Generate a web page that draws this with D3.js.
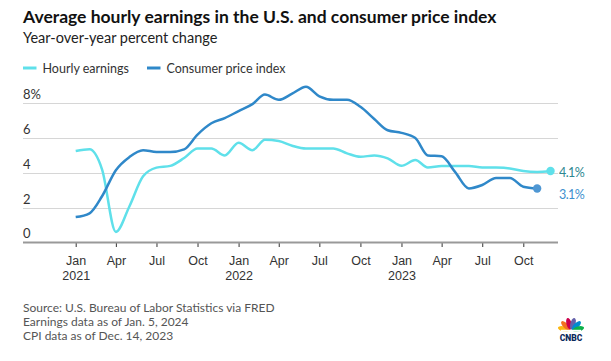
<!DOCTYPE html>
<html>
<head>
<meta charset="utf-8">
<script src="https://cdn.jsdelivr.net/npm/d3@7"></script>
<style>
  body { margin: 0; background: #fff; }
  svg { display: block; font-family: Lato, "Noto Sans", sans-serif; }
</style>
</head>
<body>
<div id="chart"></div>
<script>
// DATA (monthly, year-over-year %)
const startMonth = new Date(2021, 0, 1)
const earnings = [5.25, 5.35, 4.2, 0.6, 2.05, 3.8, 4.3, 4.4, 4.85, 5.4, 5.4, 5.0,
  5.73, 5.3, 5.9, 5.83, 5.56, 5.4, 5.4, 5.4, 5.12, 4.92, 5.0, 4.83,
  4.4, 4.73, 4.31, 4.39, 4.39, 4.39, 4.31, 4.3, 4.25, 4.1, 4.05, 4.1]
const cpi = [1.45, 1.67, 2.65, 4.15, 4.9, 5.3, 5.2, 5.2, 5.35, 6.2, 6.85, 7.15,
  7.55, 7.95, 8.5, 8.2, 8.55, 8.95, 8.4, 8.2, 8.2, 7.8, 7.1, 6.45,
  6.3, 6.0, 5.0, 4.95, 4.05, 3.1, 3.3, 3.7, 3.7, 3.2, 3.1]
const yTicks = [0, 2, 4, 6, 8]
const endLabels = ['4.1%', '3.1%']
const sourceLines = [
  'Source: U.S. Bureau of Labor Statistics via FRED',
  'Earnings data as of Jan. 5, 2024',
  'CPI data as of Dec. 14, 2023',
]

const colors = { earnings: '#5fe0ea', cpi: '#2f88c9', earnLabel: '#2c8790', cpiLabel: '#3d8fce' }

const toSeries = arr => arr.map((v, i) => ({ date: d3.timeMonth.offset(startMonth, i), value: v }))
const earnSeries = toSeries(earnings)
const cpiSeries = toSeries(cpi)

// SIZES
const W = 611, H = 361
const left = 23, right = 558

const svg = d3.select('#chart').append('svg')
  .attr('width', W).attr('height', H)

// TITLES
svg.append('text').attr('x', left).attr('y', 23)
  .attr('font-size', 17.5).attr('font-weight', 700).attr('fill', '#111')
  .text('Average hourly earnings in the U.S. and consumer price index')
svg.append('text').attr('x', left).attr('y', 43)
  .attr('font-size', 14.5).attr('fill', '#222')
  .text('Year-over-year percent change')

// LEGEND
const legend = [
  { label: 'Hourly earnings', color: colors.earnings, x: 23 },
  { label: 'Consumer price index', color: colors.cpi, x: 147 },
]
const lg = svg.selectAll('g.legend').data(legend).join('g')
  .attr('class', 'legend')
  .attr('transform', d => `translate(${d.x},68)`)
lg.append('line').attr('x1', 0).attr('x2', 13.5).attr('y1', 0).attr('y2', 0)
  .attr('stroke', d => d.color).attr('stroke-width', 3)
lg.append('text').attr('x', 19.5).attr('y', 4.5)
  .attr('font-size', 12.5).attr('fill', '#333')
  .text(d => d.label)

// SCALES
const x = d3.scaleTime()
  .domain([new Date(2021, 0, 1), new Date(2023, 9, 1)])
  .range([75.7, 523.3])
const y = d3.scaleLinear().domain([0, 8]).range([242.3, 103.3])

// GRIDLINES + Y LABELS
const grid = svg.append('g')
grid.selectAll('line').data(yTicks.filter(d => d > 0)).join('line')
  .attr('x1', left).attr('x2', right)
  .attr('y1', d => Math.round(y(d)) + 0.5).attr('y2', d => Math.round(y(d)) + 0.5)
  .attr('stroke', '#d6d6d6').attr('stroke-width', 1)
grid.selectAll('text').data(yTicks).join('text')
  .attr('x', left).attr('y', d => y(d) - 4)
  .attr('font-size', 13).attr('fill', '#333')
  .text(d => d === 8 ? '8%' : d)

// X AXIS
const xAxis = d3.axisBottom(x)
  .ticks(d3.timeMonth.every(3))
  .tickSize(4)
  .tickFormat('')
const axisG = svg.append('g')
  .attr('transform', `translate(0,${Math.round(y(0)) + 1})`)
  .call(xAxis)
axisG.select('.domain').remove()
axisG.selectAll('.tick line').attr('stroke', '#333')
svg.append('line')
  .attr('x1', left).attr('x2', right)
  .attr('y1', Math.round(y(0)) + 0.5).attr('y2', Math.round(y(0)) + 0.5)
  .attr('stroke', '#999').attr('stroke-width', 2)

const fmtMonth = d3.timeFormat('%b')
axisG.selectAll('.tick').each(function (d) {
  const t = d3.select(this).append('text')
    .attr('fill', '#333').attr('font-size', 12.5).attr('text-anchor', 'middle')
  t.append('tspan').attr('x', 0).attr('y', 21.5).text(fmtMonth(d))
  if (d.getMonth() === 0) t.append('tspan').attr('x', 0).attr('y', 36.5).text(d.getFullYear())
})

// LINES
const line = d3.line()
  .x(d => x(d.date))
  .y(d => y(d.value))
  .curve(d3.curveMonotoneX)

svg.append('path').datum(earnSeries)
  .attr('fill', 'none').attr('stroke', colors.earnings).attr('stroke-width', 2.5)
  .attr('stroke-linejoin', 'round').attr('d', line)
svg.append('path').datum(cpiSeries)
  .attr('fill', 'none').attr('stroke', colors.cpi).attr('stroke-width', 2.5)
  .attr('stroke-linejoin', 'round').attr('d', line)

// END POINTS + LABELS
const ends = [
  { p: earnSeries[earnSeries.length - 1], color: colors.earnings, lc: colors.earnLabel, label: endLabels[0] },
  { p: cpiSeries[cpiSeries.length - 1], color: '#4f97d3', lc: colors.cpiLabel, label: endLabels[1] },
]
svg.selectAll('circle.end').data(ends).join('circle')
  .attr('class', 'end')
  .attr('cx', d => x(d.p.date)).attr('cy', d => y(d.p.value))
  .attr('r', 4.2).attr('fill', d => d.color)
svg.selectAll('text.endlabel').data(ends).join('text')
  .attr('class', 'endlabel')
  .attr('x', 559)
  .attr('y', (d, i) => i === 0 ? 177 : 198.5)
  .attr('font-size', 12.5).attr('letter-spacing', -0.6).attr('fill', d => d.lc)
  .text(d => d.label)

// SOURCE
svg.selectAll('text.src').data(sourceLines).join('text')
  .attr('class', 'src')
  .attr('x', left).attr('y', (d, i) => 311.5 + i * 14.2)
  .attr('font-size', 12).attr('fill', '#555')
  .text(d => d)

// CNBC LOGO
const logo = svg.append('g').attr('transform', 'translate(571,331)')
const feathers = ['#fcb711', '#f37021', '#cc004c', '#6460aa', '#0089d0', '#0db14b']
feathers.forEach((c, i) => {
  const a = -75 + i * 30
  logo.append('ellipse')
    .attr('cx', 0).attr('cy', -7.5).attr('rx', 2.6).attr('ry', 6)
    .attr('fill', c)
    .attr('transform', `rotate(${a})`)
})
logo.append('rect').attr('x', -10).attr('y', -1.2).attr('width', 20).attr('height', 2).attr('fill', '#fff')
svg.append('text').attr('x', 571).attr('y', 341).attr('text-anchor', 'middle')
  .attr('font-size', 8.5).attr('font-weight', 900).attr('fill', '#0c2a5c')
  .attr('font-family', 'Roboto, sans-serif')
  .text('CNBC')
</script>
</body>
</html>
